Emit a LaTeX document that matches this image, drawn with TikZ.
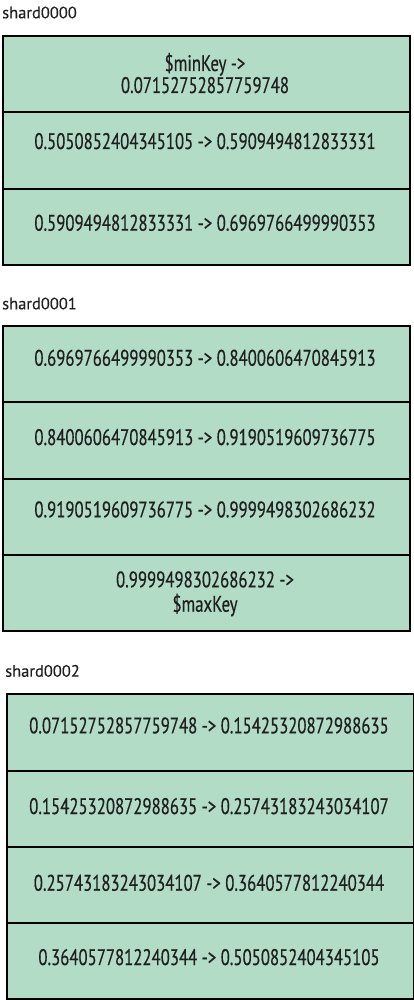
\documentclass[tikz,border=0pt]{standalone}
\usepackage{fontspec}
\newfontfamily\condfont[FakeStretch=0.745,FakeBold=0.4]{PT Sans}
\newfontfamily\labfont[FakeStretch=1.0,FakeBold=0.3]{PT Sans}
\definecolor{cellgreen}{RGB}{179,220,199}
\begin{document}
\begin{tikzpicture}[x=1pt,y=-1pt,
  cell/.style={draw=black, line width=2pt, fill=cellgreen, rectangle,
    minimum height=76.25pt, inner sep=0pt, anchor=north west},
  celltext/.style={anchor=base, inner sep=0pt, text=black!88,
    font=\condfont\fontsize{22.5}{24}\selectfont},
  shardlabel/.style={anchor=base west, inner sep=0pt, text=black!88,
    font=\labfont\fontsize{16.5}{20}\selectfont}]
\useasboundingbox (0,0) rectangle (414,1000);
% shard0000
\node[shardlabel] (l0) at (2,18.3) {shard0000};
\node[cell, minimum width=407.5pt] (a1) at (1.5,35) {};
\node[cell, minimum width=407.5pt] (a2) at (1.5,111.3) {};
\node[cell, minimum width=407.5pt] (a3) at (1.5,187.6) {};
\node[celltext] (ta1) at (205,71) {\$minKey ->};
\node[celltext] (ta1b) at (205,93) {0.07152752857759748};
\node[celltext] (ta2) at (205,149) {0.5050852404345105 -> 0.5909494812833331};
\node[celltext] (ta3) at (205,230.7) {0.5909494812833331 -> 0.6969766499990353};
% shard0001
\node[shardlabel] (l1) at (2,309.3) {shard0001};
\node[cell, minimum width=407.8pt] (b1) at (1.5,325) {};
\node[cell, minimum width=407.8pt] (b2) at (1.5,401.25) {};
\node[cell, minimum width=407.8pt] (b3) at (1.5,477.5) {};
\node[cell, minimum width=407.8pt] (b4) at (1.5,553.75) {};
\node[celltext] (tb1) at (205,365.7) {0.6969766499990353 -> 0.8400606470845913};
\node[celltext] (tb2) at (205,445) {0.8400606470845913 -> 0.9190519609736775};
\node[celltext] (tb3) at (205,517.3) {0.9190519609736775 -> 0.9999498302686232};
\node[celltext] (tb4) at (205,587.3) {0.9999498302686232 ->};
\node[celltext] (tb4b) at (205,611.7) {\$maxKey};
% shard0002
\node[shardlabel] (l2) at (5,676.7) {shard0002};
\node[cell, minimum width=407.3pt] (c1) at (5.5,693.3) {};
\node[cell, minimum width=407.3pt] (c2) at (5.5,769.55) {};
\node[cell, minimum width=407.3pt] (c3) at (5.5,845.8) {};
\node[cell, minimum width=407.3pt] (c4) at (5.5,922.05) {};
\node[celltext] (tc1) at (209,733.3) {0.07152752857759748 -> 0.15425320872988635};
\node[celltext] (tc2) at (209,814) {0.15425320872988635 -> 0.25743183243034107};
\node[celltext] (tc3) at (209,890.7) {0.25743183243034107 -> 0.3640577812240344};
\node[celltext] (tc4) at (209,965) {0.3640577812240344 -> 0.5050852404345105};
\end{tikzpicture}
\end{document}
